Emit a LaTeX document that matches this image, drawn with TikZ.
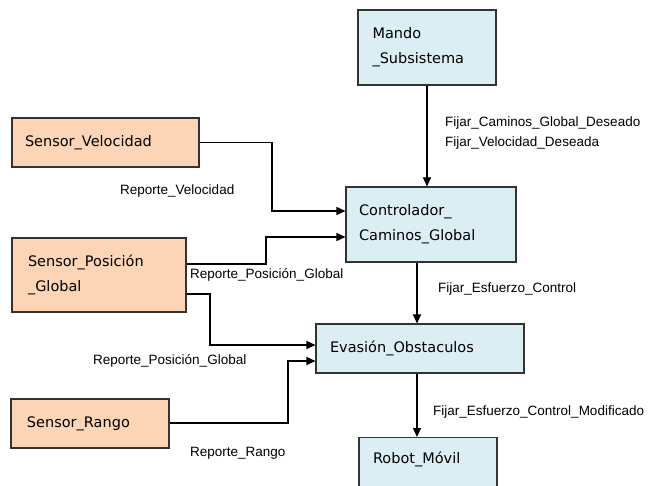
\documentclass[tikz,border=0pt]{standalone}
\usepackage{fontspec}
\setmainfont{DejaVu Sans}
\newfontfamily\lblfont{Liberation Sans}
\usetikzlibrary{arrows.meta}
\definecolor{bluefill}{HTML}{DBEEF4}
\definecolor{orangefill}{HTML}{FBD5B5}
\definecolor{edge}{HTML}{333333}
\tikzset{
  box/.style={draw=edge, line width=1.1pt, inner ysep=0pt, align=left, font=\fontsize{14.5}{25}\selectfont},
  bluebox/.style={box, fill=bluefill},
  orangebox/.style={box, fill=orangefill},
  lbl/.style={anchor=west, inner sep=0pt, font=\lblfont\fontsize{13.5}{15}\selectfont},
  arr/.style={line width=1.1pt, draw=black, -{Triangle[length=9pt,width=8pt]}},
}
\begin{document}
\begin{tikzpicture}[x=1pt,y=-1pt]
\path[use as bounding box] (0,0) rectangle (650,486);
\clip (0,0) rectangle (650,486);
\fill[white] (0,0) rectangle (650,486);
% boxes
\node[bluebox, minimum width=138pt, minimum height=75pt, text width=109pt, inner xsep=14.5pt] (mando) at (427,47.5) {Mando\\\_Subsistema};
\node[bluebox, minimum width=170pt, minimum height=75pt, text width=144pt, inner xsep=13pt] (ctrl) at (431,224.5) {Controlador\_\\Caminos\_Global};
\node[bluebox, minimum width=208pt, minimum height=49pt, text width=180pt, inner xsep=14pt] (evas) at (420,348.5) {Evasión\_Obstaculos};
\node[bluebox, anchor=north, minimum width=138pt, text width=110pt, inner xsep=14pt, inner ysep=14pt, text height=12pt, text depth=50pt] (robot) at (428,437) {Robot\_Móvil};
\node[orangebox, minimum width=187pt, minimum height=49pt, text width=161pt, inner xsep=13pt] (sv) at (105.5,142.5) {Sensor\_Velocidad};
\node[orangebox, minimum width=174pt, minimum height=74pt, text width=142pt, inner xsep=16pt] (sp) at (99,275) {Sensor\_Posición\\\_Global};
\node[orangebox, minimum width=158pt, minimum height=49pt, text width=126pt, inner xsep=16pt] (sr) at (90,423.5) {Sensor\_Rango};
% bend points
\coordinate (b1) at (272,211);
\coordinate (b2a) at (266,264);
\coordinate (b2b) at (266,237);
\coordinate (b3a) at (210,294);
\coordinate (b3b) at (210,345);
\coordinate (b4a) at (288,423);
\coordinate (b4b) at (288,361);
\coordinate (vx) at (417,0);
% connectors
\draw[arr] (mando.south) -- (mando.south |- ctrl.north);
\draw[arr] (ctrl.south -| vx) -- (evas.north -| vx);
\draw[arr] (evas.south -| vx) -- (robot.north -| vx);
\draw[arr] (sv.east) -| (b1) -- (ctrl.west |- b1);
\draw[arr] (sp.east |- b2a) -- (b2a) -- (b2b) -- (ctrl.west |- b2b);
\draw[arr] (sp.east |- b3a) -- (b3a) -- (b3b) -- (evas.west |- b3b);
\draw[arr] (sr.east |- b4a) -- (b4a) -- (b4b) -- (evas.west |- b4b);
% labels
\node[lbl] (l1) at (445,123) {Fijar\_Caminos\_Global\_Deseado};
\node[lbl] (l2) at (445,143) {Fijar\_Velocidad\_Deseada};
\node[lbl] (l3) at (120,191) {Reporte\_Velocidad};
\node[lbl] (l4) at (190,275) {Reporte\_Posición\_Global};
\node[lbl] (l5) at (93,361) {Reporte\_Posición\_Global};
\node[lbl] (l6) at (190,453) {Reporte\_Rango};
\node[lbl] (l7) at (438,289) {Fijar\_Esfuerzo\_Control};
\node[lbl] (l8) at (433,412) {Fijar\_Esfuerzo\_Control\_Modificado};
\end{tikzpicture}
\end{document}
